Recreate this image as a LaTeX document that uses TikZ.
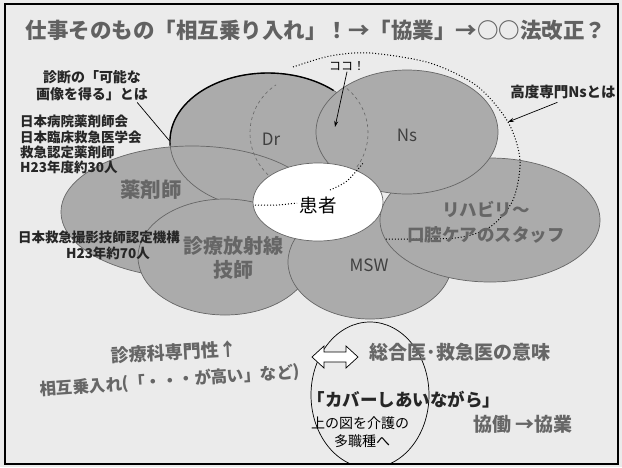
\documentclass[tikz,border=0pt]{standalone}
\usepackage{fontspec}
\setmainfont{Noto Sans CJK JP}
\usetikzlibrary{shapes.geometric,arrows.meta}
\definecolor{bgc}{gray}{0.92}
\definecolor{blobc}{gray}{0.67}
\definecolor{edgec}{gray}{0.40}
\definecolor{heavyc}{gray}{0.40}
\definecolor{darkc}{gray}{0.15}
\newcommand{\myfs}[1]{\fontsize{#1}{#1}\selectfont}
\begin{document}
\begin{tikzpicture}[x=1pt,y=-1pt,
  blob/.style={ellipse, fill=blobc, draw=edgec, line width=0.7pt, inner sep=0pt},
  heavy/.style={font=\bfseries\myfs{#1}, text=heavyc, inner sep=1pt},
  dark/.style={font=\bfseries\myfs{#1}, text=darkc, inner sep=1pt},
  plain/.style={font=\myfs{#1}, text=black, inner sep=1pt},
  latin/.style={font=\myfs{17}, text=black!75, inner sep=1pt},
  hidden/.style={edgec, dashed, line width=0.6pt},
  dotline/.style={black, dotted, line width=1pt},
  conn/.style={black, line width=0.7pt}]
\fill[bgc] (0,0) rectangle (622,467);
\useasboundingbox (0,0) rectangle (622,467);

% title
\node[heavy=21.5, text=black!62] (title) at (316,30) {仕事そのもの「相互乗り入れ」！→「協業」→○○法改正？};

% flower of ellipses
\node[blob, minimum width=196pt, minimum height=136pt] (dr) at (268,141) {};
\draw[black, line width=1.4pt] plot[domain=176:312, samples=60] ({268+98*cos(\x)},{141+68*sin(\x)});
\node[blob, minimum width=262pt, minimum height=132pt] (yaku) at (192,212) {};
\draw[edgec, line width=0.7pt] plot[domain=90:182, samples=50] ({268+98*cos(\x)},{141+68*sin(\x)});
\node[blob, minimum width=174pt, minimum height=116pt] (rad) at (225,257) {};
\node[blob, minimum width=164pt, minimum height=114pt] (msw) at (370,262) {};
\node[blob, minimum width=220pt, minimum height=124pt] (reha) at (490,220) {};
\node[blob, minimum width=182pt, minimum height=124pt] (ns) at (407,132) {};
\draw[hidden] plot[domain=-50:50, samples=40] ({309+59*cos(\x)},{133+58*sin(\x)});
\draw[hidden] plot[domain=128:236, samples=40] ({309+59*cos(\x)},{133+58*sin(\x)});
\draw[dotline] plot[smooth] coordinates {(293,67) (330,56) (370,53) (430,63) (477,86) (508,122) (520,160) (513,200) (490,227) (455,238) (385,239)};

\node[ellipse, fill=white, draw=edgec, line width=0.7pt, minimum width=130pt, minimum height=78pt, inner sep=0pt] (pt) at (318,202) {};
\draw[dotline] plot[smooth] coordinates {(255,205) (277,205) (297,203)};
\draw[dotline] plot[smooth] coordinates {(330,190) (347,181) (364,162)};
\node[plain=18.5, fill=white] (ptl) at (318,205) {患者};

% labels in ellipses
\node[latin] (drl) at (271,139) {Dr};
\node[latin] (nsl) at (407,135) {Ns};
\node[latin] (mswl) at (369,265) {MSW};
\node[heavy=20.5] (yakul) at (151,190) {薬剤師};
\node[font={\bfseries\fontsize{20}{24}\selectfont}, text=heavyc, align=center, inner sep=1pt] (radl) at (233,258) {診療放射線\\技師};
\node[font={\bfseries\fontsize{17.5}{25}\selectfont}, text=heavyc, align=center, inner sep=1pt] (rehal) at (486,222) {リハビリ～\\口腔ケアのスタッフ};

% left notes
\node[font={\bfseries\fontsize{14}{17}\selectfont}, text=darkc, align=center, inner sep=1pt] (shindan) at (92,86) {診断の「可能な\\画像を得る」とは};
\node[font={\bfseries\fontsize{13.5}{15.4}\selectfont}, text=darkc, align=left, inner sep=0pt, anchor=north west] (jsh) at (20,115) {日本病院薬剤師会\\日本臨床救急医学会\\救急認定薬剤師\\H23年度約30人};
\node[dark=13.5] (jart) at (99,237) {日本救急撮影技師認定機構};
\node[dark=13.5] (h23b) at (108,253) {H23年約70人};
\draw[conn] ([xshift=-12pt]shindan.south east) -- (dr.west);

% right notes
\node[dark=14.5] (kodo) at (563,92) {高度専門Nsとは};
\coordinate (kodot) at (508,122);
\draw[conn, -{Stealth[length=6pt,width=4pt]}, shorten <=6pt] (kodo.south) -- (kodot);
\node[plain=12] (koko) at (347,66) {ココ！};
\coordinate (kokot) at (335,127);
\draw[conn, -{Stealth[length=6pt,width=4pt]}] (koko.south) -- (kokot);

% bottom
\begin{scope}
\clip (5,4) rectangle (618,464);
\node[ellipse, draw=black, line width=0.7pt, minimum width=118pt, minimum height=146pt, inner sep=0pt] (circ) at (370,395) {};
\end{scope}
\draw[black, line width=0.7pt, fill=white] (312,357) -- (324,346) -- (324,352) -- (346,352) -- (346,346) -- (358,357) -- (346,368) -- (346,362) -- (324,362) -- (324,368) -- cycle;
\node[heavy=18, rotate=3] (senmon) at (174,352) {診療科専門性↑};
\node[heavy=16.5, rotate=4] (sogo) at (170,381) {相互乗入れ(「・・・が高い」など)};
\node[heavy=19] (sogoi) at (460,352) {総合医･救急医の意味};
\node[dark=17.5] (cover) at (404,400) {「カバーしあいながら」};
\node[plain=14] (ue) at (360,423) {上の図を介護の};
\node[plain=14] (tashoku) at (362,441) {多職種へ};
\node[heavy=19] (kyodo) at (523,424) {協働 →協業};

% frame
\draw[black, line width=1.2pt] (5,4) rectangle (618,464);
\end{tikzpicture}
\end{document}
